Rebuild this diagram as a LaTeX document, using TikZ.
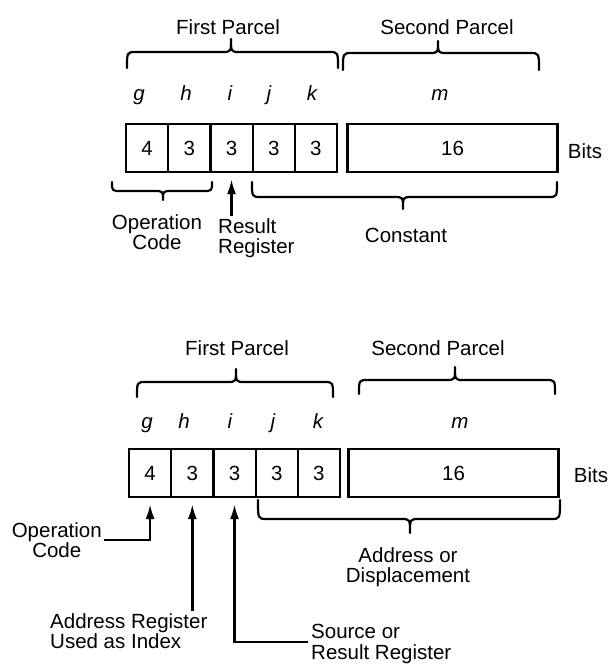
\documentclass[tikz,border=0pt]{standalone}
\usepackage{fontspec}
\setmainfont{Liberation Sans}
\usetikzlibrary{arrows.meta}
\newcommand{\mybrace}[6]{\draw[brc] (#1,#4) .. controls (#1,#5) .. (#1+9,#5) -- (#3-9,#5) .. controls (#3,#5) .. (#3,#6) .. controls (#3,#5) .. (#3+9,#5) -- (#2-9,#5) .. controls (#2,#5) .. (#2,#4);}
\begin{document}
\begin{tikzpicture}[x=1pt,y=-1pt,
  txt/.style={font=\fontsize{20.5}{20.5}\selectfont, inner sep=2pt},
  var/.style={font=\fontsize{20.5}{20.5}\selectfont\itshape, inner sep=2pt, anchor=base},
  cell/.style={draw, line width=2.2pt, minimum width=42.2pt, minimum height=48pt, inner sep=0pt, font=\fontsize{20.5}{20.5}\selectfont},
  wide/.style={cell, minimum width=210pt},
  brc/.style={line width=2.2pt, line cap=round, line join=round},
  arr/.style={-{Latex[length=15pt,width=9pt]}, line width=2.4pt, shorten >=6pt}]
\useasboundingbox (0,0) rectangle (608,667);

% ---------- top diagram ----------
\node[txt] (fp1) at (228,27) {First Parcel};
\node[txt] (sp1) at (447,27) {Second Parcel};
\mybrace{127}{338}{231}{68}{52}{39}
\mybrace{343}{539}{438}{70}{53}{41}
\node[var] (g1) at (139,100) {g};
\node[var] (h1) at (186,100) {h};
\node[var] (i1) at (230,100) {i};
\node[var] (j1) at (269,100) {j};
\node[var] (k1) at (312,100) {k};
\node[var] (m1) at (440,100) {m};

\node[cell] (a1) at (147.1,148) {4};
\node[cell] (a2) at (189.3,148) {3};
\node[cell] (a3) at (231.5,148) {3};
\node[cell] (a4) at (273.7,148) {3};
\node[cell] (a5) at (315.9,148) {3};
\node[wide] (a6) at (452.5,148) {16};
\node[txt] (bits1) at (585,151) {Bits};

\mybrace{112}{212}{163}{182}{191}{200}
\mybrace{252}{557}{403}{182}{197}{209}
\node[txt, align=center] (oc1) at (157,232) {Operation\\Code};
\node[txt, align=left, anchor=west] (rr1) at (216,238) {Result\\Register};
\node[txt] (cst) at (406,235) {Constant};
\draw[arr] (a3.south |- rr1.north) -- (a3.south);

% ---------- bottom diagram ----------
\node[txt] (fp2) at (237,348) {First Parcel};
\node[txt] (sp2) at (438,348) {Second Parcel};
\mybrace{137}{333}{236}{397}{382}{369}
\mybrace{359}{555}{455}{394}{380}{367}
\node[var] (g2) at (147,428) {g};
\node[var] (h2) at (184,428) {h};
\node[var] (i2) at (230,428) {i};
\node[var] (j2) at (273,428) {j};
\node[var] (k2) at (318,428) {k};
\node[var] (m2) at (460,428) {m};

\node[cell] (b1) at (150.1,473) {4};
\node[cell] (b2) at (192.3,473) {3};
\node[cell] (b3) at (234.5,473) {3};
\node[cell] (b4) at (276.7,473) {3};
\node[cell] (b5) at (318.9,473) {3};
\node[wide] (b6) at (453.5,473) {16};
\node[txt] (bits2) at (591,475) {Bits};

\mybrace{258}{560}{410}{500}{519}{533}
\node[txt, align=center] (ad) at (408,567) {Address or\\Displacement};

\node[txt, align=center, anchor=east] (oc2) at (104,540) {Operation\\Code};
\draw[arr] (oc2.east) -| (b1.south);

\node[txt, align=left, anchor=north west] (ar) at (48,611) {Address Register\\Used as Index};
\draw[arr] (b2.south |- ar.north) -- (b2.south);

\node[txt, align=left, anchor=north west] (sr) at (309,622) {Source or\\Result Register};
\coordinate (srl) at (308,642);
\draw[arr] (srl) -| (b3.south);
\end{tikzpicture}
\end{document}
